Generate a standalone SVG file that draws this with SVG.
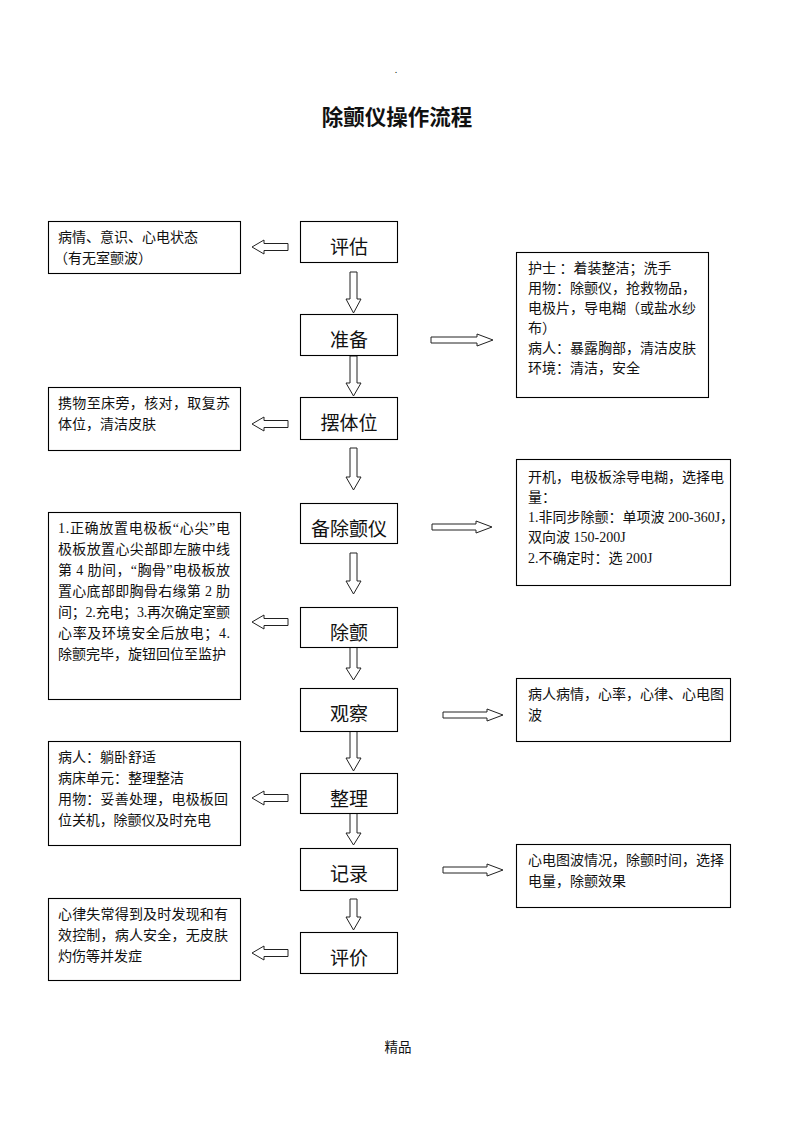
<svg xmlns="http://www.w3.org/2000/svg" width="793" height="1122" viewBox="0 0 793 1122">
<style>
text{font-family:"Liberation Serif","Noto Sans CJK SC",serif;fill:#111}
.box{fill:#fff;stroke:#000;stroke-width:1.1}
.lbl{font-size:19px;text-anchor:middle}
.t{font-size:14px}
.arr{fill:#fff;stroke:#222;stroke-width:1}
.title{font-family:"Noto Sans CJK SC",sans-serif;font-size:21.5px;font-weight:bold;text-anchor:middle}
</style>
<rect width="793" height="1122" fill="#fff"/>
<text x="396" y="73" style="font-size:10px" text-anchor="middle">.</text>
<text class="title" x="397" y="125">除颤仪操作流程</text>

<g id="connectors">
<polygon class="arr" points="350,272 357,272 357,299 361,299 353.5,313 346,299 350,299"/>
<polygon class="arr" points="350,356 357,356 357,383 361,383 353.5,396 346,383 350,383"/>
<polygon class="arr" points="350,448 357,448 357,477 361,477 353.5,490 346,477 350,477"/>
<polygon class="arr" points="350,553 357,553 357,581 361,581 353.5,594 346,581 350,581"/>
<polygon class="arr" points="350,647 357,647 357,668 361,668 353.5,680 346,668 350,668"/>
<polygon class="arr" points="350,731 357,731 357,758 361,758 353.5,771 346,758 350,758"/>
<polygon class="arr" points="350,813 357,813 357,833 361,833 353.5,845 346,833 350,833"/>
<polygon class="arr" points="350,899 357,899 357,917 361,917 353.5,930 346,917 350,917"/>

<polygon class="arr" points="288,243.5 264,243.5 264,240 252,247 264,254 264,250.5 288,250.5"/>
<polygon class="arr" points="288,420.5 264,420.5 264,417 252,424 264,431 264,427.5 288,427.5"/>
<polygon class="arr" points="288,618.5 264,618.5 264,615 252,622 264,629 264,625.5 288,625.5"/>
<polygon class="arr" points="288,794.5 264,794.5 264,791 252,798 264,805 264,801.5 288,801.5"/>
<polygon class="arr" points="288,949.5 264,949.5 264,946 252,953 264,960 264,956.5 288,956.5"/>

<polygon class="arr" points="431,337 477,337 477,334 493,340 477,346 477,343 431,343"/>
<polygon class="arr" points="432,524 476,524 476,521 492,527 476,533 476,530 432,530"/>
<polygon class="arr" points="443,712 487,712 487,709 503,715 487,721 487,718 443,718"/>
<polygon class="arr" points="443,867 487,867 487,864 503,870 487,876 487,873 443,873"/>
</g>

<g id="n-pinggu"><rect class="box" x="300.5" y="221.5" width="97" height="41"/><text class="lbl" x="349" y="254">评估</text></g>
<g id="n-zhunbei"><rect class="box" x="300.5" y="314.5" width="97" height="41"/><text class="lbl" x="349" y="347">准备</text></g>
<g id="n-baitiwei"><rect class="box" x="300.5" y="397.5" width="97" height="42"/><text class="lbl" x="349" y="430">摆体位</text></g>
<g id="n-beichuchanyi"><rect class="box" x="300.5" y="503.5" width="97" height="40"/><text class="lbl" x="349" y="536">备除颤仪</text></g>
<g id="n-chuchan"><rect class="box" x="300.5" y="607.5" width="97" height="40"/><text class="lbl" x="349" y="640">除颤</text></g>
<g id="n-guancha"><rect class="box" x="300.5" y="688.5" width="97" height="43"/><text class="lbl" x="349" y="721">观察</text></g>
<g id="n-zhengli"><rect class="box" x="300.5" y="773.5" width="97" height="40"/><text class="lbl" x="349" y="806">整理</text></g>
<g id="n-jilu"><rect class="box" x="300.5" y="848.5" width="97" height="42"/><text class="lbl" x="349" y="881">记录</text></g>
<g id="n-pingjia"><rect class="box" x="300.5" y="932.5" width="97" height="41"/><text class="lbl" x="349" y="965">评价</text></g>

<g id="l-pinggu"><rect class="box" x="48.5" y="221.5" width="192" height="52"/>
<text class="t" x="58" y="242">病情、意识、心电状态</text>
<text class="t" x="54" y="263">（有无室颤波）</text></g>

<g id="l-baitiwei"><rect class="box" x="48.5" y="387.5" width="192" height="63"/>
<text class="t" x="58" y="408" textLength="172" lengthAdjust="spacing">携物至床旁，核对，取复苏</text>
<text class="t" x="58" y="429">体位，清洁皮肤</text></g>

<g id="l-chuchan"><rect class="box" x="48.5" y="512.5" width="192" height="187"/>
<text class="t" x="58" y="533" textLength="172" lengthAdjust="spacing">1.正确放置电极板“心尖”电</text>
<text class="t" x="58" y="554" textLength="172" lengthAdjust="spacing">极板放置心尖部即左腋中线</text>
<text class="t" x="58" y="575" textLength="172" lengthAdjust="spacing">第 4 肋间，“胸骨”电极板放</text>
<text class="t" x="58" y="596" textLength="172" lengthAdjust="spacing">置心底部即胸骨右缘第 2 肋</text>
<text class="t" x="58" y="617" textLength="172" lengthAdjust="spacing">间；2.充电；3.再次确定室颤</text>
<text class="t" x="58" y="638" textLength="172" lengthAdjust="spacing">心率及环境安全后放电；4.</text>
<text class="t" x="58" y="659" textLength="168" lengthAdjust="spacing">除颤完毕，旋钮回位至监护</text></g>

<g id="l-zhengli"><rect class="box" x="48.5" y="741.5" width="192" height="104"/>
<text class="t" x="58" y="762">病人：躺卧舒适</text>
<text class="t" x="58" y="783">病床单元：整理整洁</text>
<text class="t" x="58" y="804" textLength="170" lengthAdjust="spacing">用物：妥善处理，电极板回</text>
<text class="t" x="58" y="825" textLength="153" lengthAdjust="spacing">位关机，除颤仪及时充电</text></g>

<g id="l-pingjia"><rect class="box" x="48.5" y="898.5" width="192" height="82"/>
<text class="t" x="58" y="919" textLength="170" lengthAdjust="spacing">心律失常得到及时发现和有</text>
<text class="t" x="58" y="940" textLength="170" lengthAdjust="spacing">效控制，病人安全，无皮肤</text>
<text class="t" x="58" y="961">灼伤等并发症</text></g>

<g id="r-zhunbei"><rect class="box" x="516.5" y="252.5" width="192" height="145"/>
<text class="t" x="528" y="273">护士 ：着装整洁；洗手</text>
<text class="t" x="528" y="293">用物：除颤仪，抢救物品，</text>
<text class="t" x="528" y="313">电极片，导电糊（或盐水纱</text>
<text class="t" x="528" y="333">布）</text>
<text class="t" x="528" y="353">病人：暴露胸部，清洁皮肤</text>
<text class="t" x="528" y="373">环境：清洁，安全</text></g>

<g id="r-beichuchanyi"><rect class="box" x="516.5" y="459.5" width="214" height="126"/>
<text class="t" x="528" y="482">开机，电极板涂导电糊，选择电</text>
<text class="t" x="528" y="502">量：</text>
<text class="t" x="528" y="522">1.非同步除颤：单项波 200-360J，</text>
<text class="t" x="528" y="542">双向波 150-200J</text>
<text class="t" x="528" y="563">2.不确定时：选 200J</text></g>

<g id="r-guancha"><rect class="box" x="516.5" y="678.5" width="214" height="63"/>
<text class="t" x="528" y="699">病人病情，心率，心律、心电图</text>
<text class="t" x="528" y="720">波</text></g>

<g id="r-jilu"><rect class="box" x="516.5" y="844.5" width="214" height="63"/>
<text class="t" x="528" y="865">心电图波情况，除颤时间，选择</text>
<text class="t" x="528" y="886">电量，除颤效果</text></g>

<text x="398" y="1052" style="font-size:13.5px" text-anchor="middle">精品</text>
</svg>
